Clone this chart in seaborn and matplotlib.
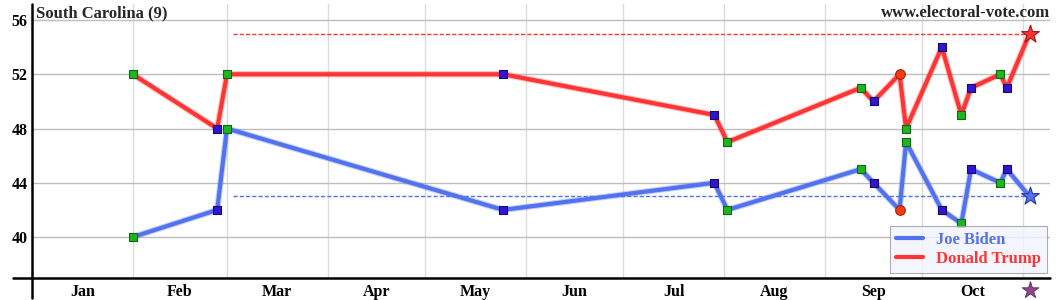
import matplotlib
matplotlib.use("Agg")
import matplotlib.pyplot as plt
import matplotlib.transforms as mtransforms
import seaborn as sns
import pandas as pd
import numpy as np

# ---- data ----
poll_dates = ["2020-02-01", "2020-02-27", "2020-03-01", "2020-05-25", "2020-07-29",
              "2020-08-02", "2020-09-12", "2020-09-16", "2020-09-24", "2020-09-26",
              "2020-10-07", "2020-10-13", "2020-10-16", "2020-10-25", "2020-10-27"]
biden = [40, 42, 48, 42, 44, 42, 45, 44, 42, 47, 42, 41, 45, 44, 45]
trump = [52, 48, 52, 52, 49, 47, 51, 50, 52, 48, 54, 49, 51, 52, 51]
poll_kind = ["green", "blue", "green", "blue", "blue", "green", "green", "blue", "red",
             "green", "blue", "green", "blue", "green", "blue"]
election_date = "2020-11-03"
final_biden = 43
final_trump = 55
avg_start = "2020-03-03"
month_names = ["Jan", "Feb", "Mar", "Apr", "May", "Jun", "Jul", "Aug", "Sep", "Oct"]
y_ticks = [40, 44, 48, 52, 56]
title = "South Carolina (9)"
site = "www.electoral-vote.com"

def doy(s):
    return int(pd.Timestamp(s).dayofyear) - 1

days = [doy(d) for d in poll_dates]
eday = doy(election_date)
astart = doy(avg_start)

BLUE = "#5272ee"
RED = "#ff3535"
SERIF = ["Liberation Serif", "DejaVu Serif"]

sns.set_theme(style="white")
plt.rcParams["font.family"] = SERIF
plt.rcParams["font.weight"] = "bold"

fig = plt.figure(figsize=(10.6, 3.0), dpi=100)
ax = fig.add_axes([32 / 1060, 22 / 300, (1050 - 32) / 1060, (278 - 4) / 300])
ax.set_xlim(0, 313.3)
ax.set_ylim(36.98, 57.18)

# grid
month_starts = [doy(f"2020-{m:02d}-01") for m in range(1, 12)]
for d in month_starts[1:]:
    ax.axvline(d, color="#dcdcdc", lw=1.0, zorder=0)
for v in y_ticks:
    ax.axhline(v, color="#bdbdbd", lw=1.0, zorder=0)

# lines
line_df = pd.DataFrame({
    "day": days + [eday] + days + [eday],
    "pct": biden + [final_biden] + trump + [final_trump],
    "cand": ["Joe Biden"] * (len(days) + 1) + ["Donald Trump"] * (len(days) + 1),
})
pal = {"Joe Biden": BLUE, "Donald Trump": RED}
sns.lineplot(data=line_df, x="day", y="pct", hue="cand", palette=pal, lw=4.6,
             alpha=0.3, sort=False, estimator=None, legend=False, ax=ax, zorder=2)
sns.lineplot(data=line_df, x="day", y="pct", hue="cand", palette=pal, lw=3.0,
             sort=False, estimator=None, ax=ax, zorder=3)

# dashed averages
ax.plot([astart, eday], [final_trump, final_trump], color=RED, lw=1.0, ls=(0, (3, 1.5)), zorder=2)
ax.plot([astart, eday], [final_biden, final_biden], color=BLUE, lw=1.0, ls=(0, (3, 1.5)), zorder=2)

# markers
mk_df = pd.DataFrame({
    "day": days + days,
    "pct": biden + trump,
    "kind": poll_kind + poll_kind,
})
face = {"green": "#1fb51f", "blue": "#3214d4", "red": "#ff3a10"}
edge = {"green": "#116611", "blue": "#1a0a66", "red": "#992200"}
for k, mk, sz in [("green", "s", 28), ("blue", "s", 28), ("red", "o", 48)]:
    sub = mk_df[mk_df["kind"] == k]
    sns.scatterplot(data=sub, x="day", y="pct", marker=mk, s=sz, color=face[k],
                    edgecolor=edge[k], linewidth=0.8, ax=ax, zorder=4, legend=False)

# final stars
ax.scatter([eday], [final_trump], marker="*", s=180, color=RED, edgecolor="#aa1111",
           linewidth=0.8, zorder=5)
ax.scatter([eday], [final_biden], marker="*", s=180, color=BLUE, edgecolor="#2233aa",
           linewidth=0.8, zorder=5)
trans = mtransforms.blended_transform_factory(ax.transData, ax.transAxes)
ax.scatter([eday], [-0.042], marker="*", s=160, color="#8a4a8a", edgecolor="#5a2a5a",
           linewidth=0.6, transform=trans, clip_on=False, zorder=5)

# axes lines
for s in ax.spines.values():
    s.set_visible(False)
ax.plot([0, 0], [-20 / 274, 1], color="black", lw=1.8, transform=ax.transAxes, clip_on=False, zorder=6)
ax.plot([-19 / 1018, 1], [0, 0], color="black", lw=1.8, transform=ax.transAxes, clip_on=False, zorder=6)

# ticks
ax.set_yticks(y_ticks)
ax.set_yticklabels([str(v) for v in y_ticks])
mids = [(month_starts[i] + month_starts[i + 1]) / 2 for i in range(10)]
ax.set_xticks(mids)
ax.set_xticklabels(month_names)
ax.tick_params(axis="both", length=0, labelsize=11.5, colors="black")
ax.tick_params(axis="x", pad=4)
ax.tick_params(axis="y", pad=3)
for lab in ax.get_xticklabels() + ax.get_yticklabels():
    lab.set_fontweight("bold")
ax.set_xlabel("")
ax.set_ylabel("")

# legend
leg = ax.legend(loc="lower right", bbox_to_anchor=(1047 / 1060, 27 / 300), bbox_transform=fig.transFigure,
                borderaxespad=0, frameon=True, fancybox=False, handlelength=1.6, handletextpad=0.8,
                borderpad=0.35, labelspacing=0.2, prop={"family": SERIF, "weight": "bold", "size": 12})
leg.get_frame().set_facecolor("#f3f3ff")
leg.get_frame().set_edgecolor("#999999")
leg.get_frame().set_linewidth(0.8)
for txt, c in zip(leg.get_texts(), [BLUE, RED]):
    txt.set_color(c)
for h in leg.legend_handles:
    h.set_linewidth(3)

fig.text(36 / 1060, 1 - 13 / 300, title, ha="left", va="center", fontsize=12,
         fontweight="bold", family=SERIF)
fig.text(1050 / 1060, 1 - 13 / 300, site, ha="right", va="center", fontsize=12,
         fontweight="bold", family=SERIF)

fig.savefig("out.png", dpi=100, facecolor="white")
